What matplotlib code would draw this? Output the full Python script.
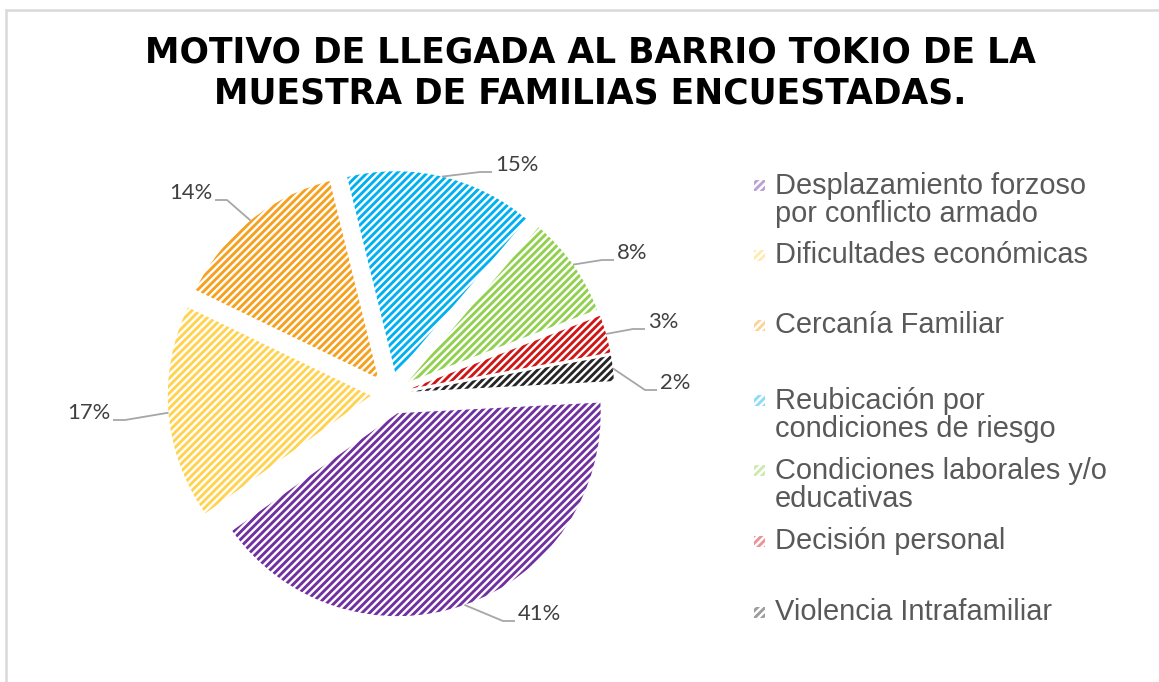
import matplotlib
matplotlib.use("Agg")
import matplotlib.pyplot as plt
from matplotlib.patches import Rectangle
import numpy as np

W, H, DPI = 1159, 682, 90


def pt(px):
    # pixel size -> points at this dpi
    return px * 72.0 / DPI


# data
categories = [
    "Desplazamiento forzoso\npor conflicto armado",
    "Dificultades económicas",
    "Cercanía Familiar",
    "Reubicación por\ncondiciones de riesgo",
    "Condiciones laborales y/o\neducativas",
    "Decisión personal",
    "Violencia Intrafamiliar",
]
values = [41, 17, 14, 15, 8, 3, 2]
colors = ["#7030A0", "#FFD34F", "#F5A01E", "#00B0F0", "#92D050", "#D01515", "#262626"]
title = "MOTIVO DE LLEGADA AL BARRIO TOKIO DE LA\nMUESTRA DE FAMILIAS ENCUESTADAS."

# layout (image pixels, y from top)
pie_center = (391, 394)
pie_radius = 203
label_pos = [(518, 614, "left"), (110, 413, "right"), (212, 193, "right"),
             (495, 165, "left"), (617, 253, "left"), (648, 322, "left"),
             (660, 383, "left")]
legend_y = [185, 255, 325, 400, 470, 541, 612]

plt.rcParams["hatch.linewidth"] = 2.3

fig = plt.figure(figsize=(W / DPI, H / DPI), dpi=DPI)
fig.patch.set_facecolor("white")
ax = fig.add_axes([0, 0, 1, 1])

wedges, _ = ax.pie(values, colors=colors, startangle=3, counterclock=False,
                   explode=[0.1 * pie_radius] * len(values), radius=pie_radius,
                   center=(pie_center[0], H - pie_center[1]),
                   wedgeprops=dict(linewidth=0))
ax.set_aspect("auto")
ax.set_xlim(0, W)
ax.set_ylim(0, H)
ax.axis("off")

for w, c in zip(wedges, colors):
    w.set_facecolor("white")
    w.set_edgecolor(c)
    w.set_linewidth(0)
    w.set_hatch("////")

# data labels with leader lines
for w, v, (lx, ly, ha) in zip(wedges, values, label_pos):
    mid = np.deg2rad((w.theta1 + w.theta2) / 2.0)
    sx = w.center[0] + w.r * np.cos(mid)
    sy = w.center[1] + w.r * np.sin(mid)
    if ha == "left":
        ex = lx - 3
        elbow = ex - 12
    else:
        ex = lx + 3
        elbow = ex + 12
    yl = H - (ly + 7)
    ax.plot([sx, elbow, ex], [sy, yl, yl], color="#A6A6A6", lw=pt(1.8),
            solid_capstyle="butt")
    ax.text(lx, H - ly, str(v) + "%", ha=ha, va="center", color="#404040",
            fontsize=pt(22), family="Lato")

# legend
for i, (name, c) in enumerate(zip(categories, colors)):
    y0 = H - legend_y[i]
    ax.add_patch(Rectangle((754, y0 - 5.5), 11, 11, facecolor="white",
                           edgecolor=c, linewidth=0, hatch="////", alpha=0.45))
    nlines = name.count("\n") + 1
    ax.text(775, y0 - 15 * (nlines - 1), name, ha="left", va="center",
            color="#595959", fontsize=pt(29), family="Liberation Sans",
            linespacing=1.03)

# title
fig.text(590 / W, 1 - 73 / H, title, ha="center", va="center",
         multialignment="center", fontsize=pt(34.6), fontweight="bold",
         family="DejaVu Sans", color="black", linespacing=1.27)

# chart frame (left and top edges visible)
ax.plot([6, 6, W], [0, H - 10, H - 10], color="#D9D9D9", lw=pt(2.5),
        solid_joinstyle="miter")

fig.savefig("out.png", dpi=DPI)
